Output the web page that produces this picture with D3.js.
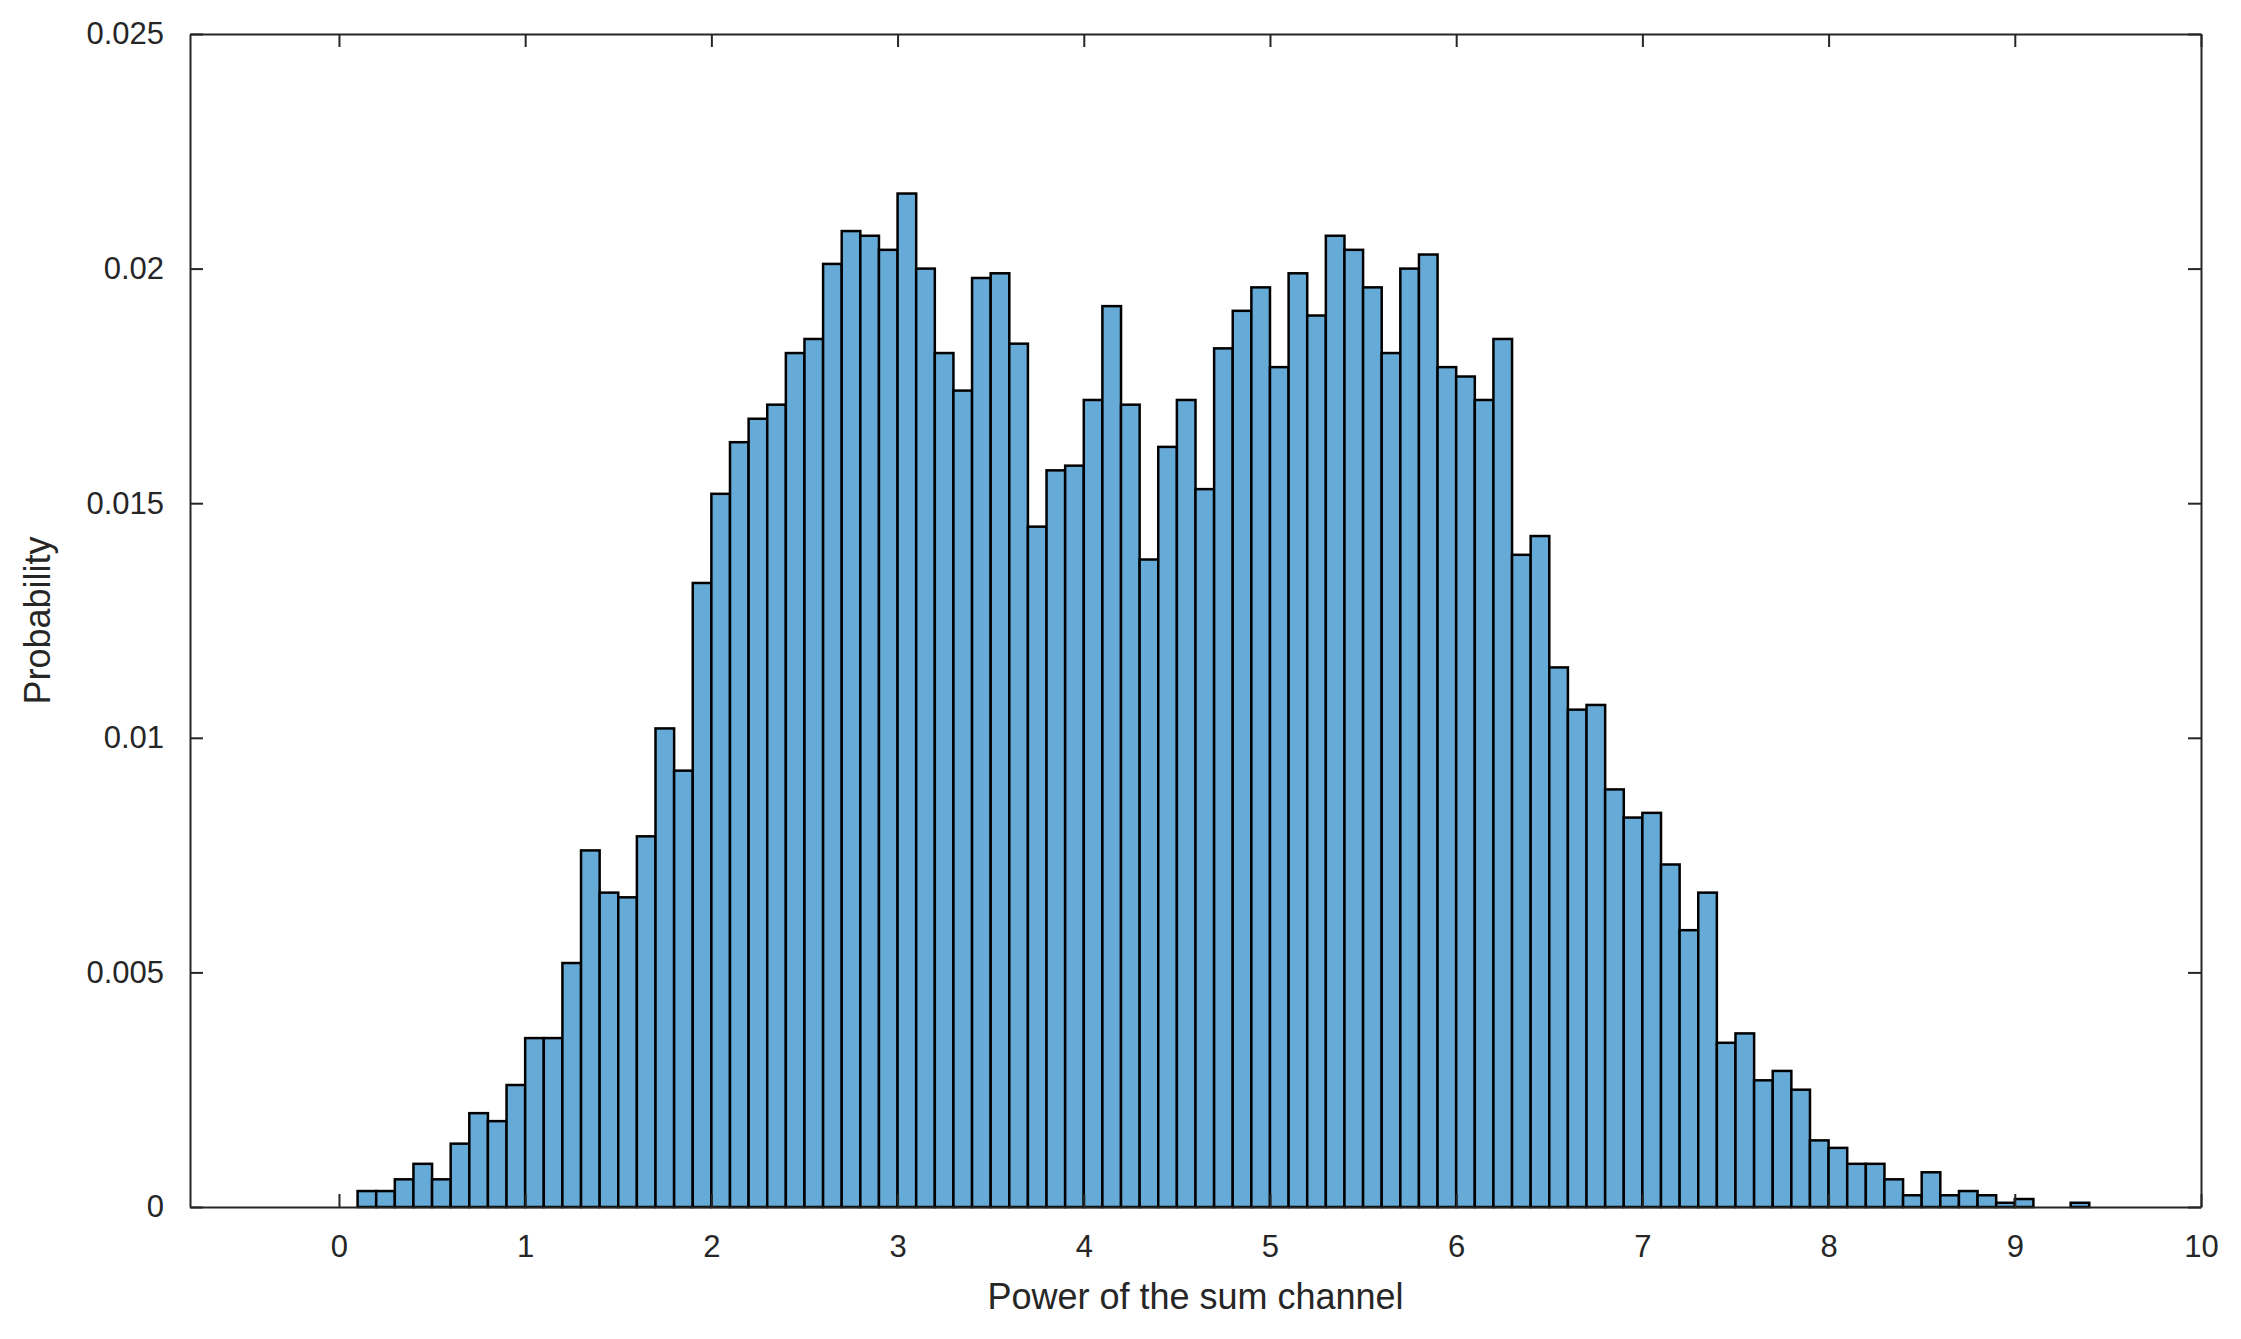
<!DOCTYPE html>
<html><head><meta charset="utf-8">
<script src="https://cdn.jsdelivr.net/npm/d3@7"></script>
<style>body{margin:0;background:#fff}text{font-family:"Liberation Sans",Arial,sans-serif;fill:#262626}</style>
</head><body><svg id="chart"></svg>
<script>
// histogram bins: left edges (width 0.1) and probability per bin
const binStart = 0.1, binWidth = 0.1
const probs = [
 0.00034,0.00034,0.00059,0.00092,0.00059,0.00135,0.0020,0.00183,0.0026,0.0036,
 0.0036,0.0052,0.0076,0.0067,0.0066,0.0079,0.0102,0.0093,0.0133,0.0152,
 0.0163,0.0168,0.0171,0.0182,0.0185,0.0201,0.0208,0.0207,0.0204,0.0216,
 0.0200,0.0182,0.0174,0.0198,0.0199,0.0184,0.0145,0.0157,0.0158,0.0172,
 0.0192,0.0171,0.0138,0.0162,0.0172,0.0153,0.0183,0.0191,0.0196,0.0179,
 0.0199,0.0190,0.0207,0.0204,0.0196,0.0182,0.0200,0.0203,0.0179,0.0177,
 0.0172,0.0185,0.0139,0.0143,0.0115,0.0106,0.0107,0.0089,0.0083,0.0084,
 0.0073,0.0059,0.0067,0.0035,0.0037,0.0027,0.0029,0.0025,0.00142,0.00126,
 0.00092,0.00092,0.00059,0.00025,0.00074,0.00025,0.00034,0.00025,0.00009,0.00017,
 0,0,0.00009
]
const xTicks = d3.range(0, 11)
const yTicks = [0, 0.005, 0.01, 0.015, 0.02, 0.025]

const W = 2241, H = 1339
const margin = {top: 34, right: 40, bottom: 132, left: 190}
const svg = d3.select('#chart').attr('width', W).attr('height', H)

const x = d3.scaleLinear().domain([-0.8, 10]).range([margin.left, W - margin.right])
const y = d3.scaleLinear().domain([0, 0.025]).range([H - margin.bottom, margin.top])

const bins = probs.map((p, i) => ({x0: binStart + i * binWidth, p}))

svg.append('g')
	.selectAll('rect')
	.data(bins.filter(d => d.p > 0))
	.join('rect')
		.attr('x', d => x(d.x0))
		.attr('y', d => y(d.p))
		.attr('width', d => x(d.x0 + binWidth) - x(d.x0))
		.attr('height', d => y(0) - y(d.p))
		.attr('fill', '#66aad7')
		.attr('stroke', '#000')
		.attr('stroke-width', 2.5)

const tick = 13
const fmt = d => d === 0 ? '0' : String(+d.toFixed(3))
const axB = svg.append('g').attr('transform', `translate(0,${y(0)})`)
	.call(d3.axisBottom(x).tickValues(xTicks).tickSize(-tick).tickPadding(28).tickSizeOuter(0))
const axT = svg.append('g').attr('transform', `translate(0,${y(0.025)})`)
	.call(d3.axisTop(x).tickValues(xTicks).tickSize(-tick).tickFormat('').tickSizeOuter(0))
const axL = svg.append('g').attr('transform', `translate(${x(-0.8)},0)`)
	.call(d3.axisLeft(y).tickValues(yTicks).tickFormat(fmt).tickSize(-tick).tickPadding(26).tickSizeOuter(0))
const axR = svg.append('g').attr('transform', `translate(${x(10)},0)`)
	.call(d3.axisRight(y).tickValues(yTicks).tickFormat('').tickSize(-tick).tickSizeOuter(0))
;[axB, axT, axL, axR].forEach(a => {
	a.selectAll('path,line').attr('stroke', '#262626').attr('stroke-width', 2)
	a.selectAll('text').style('font-size', '31px').attr('fill', '#262626')
})

svg.append('text')
	.attr('x', (x(-0.8) + x(10)) / 2).attr('y', H - 30)
	.attr('text-anchor', 'middle').style('font-size', '36px')
	.text('Power of the sum channel')
svg.append('text')
	.attr('transform', `translate(50,${(y(0) + y(0.025)) / 2}) rotate(-90)`)
	.attr('text-anchor', 'middle').style('font-size', '36px')
	.text('Probability')
</script>
</body></html>
